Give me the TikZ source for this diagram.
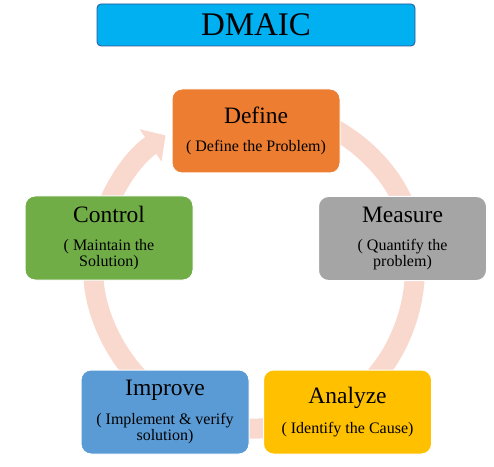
\documentclass[tikz,border=0pt]{standalone}
\usepackage{fontspec}
\setmainfont{Liberation Serif}
\newfontfamily\timesfont{Liberation Serif}
\usetikzlibrary{
  arrows.meta,
  positioning,
}
\definecolor{dmaicblue}{RGB}{0, 176, 240}
\definecolor{dmaicedge}{RGB}{47, 85, 151}
\definecolor{defineorange}{RGB}{237, 125, 49}
\definecolor{measuregray}{RGB}{165, 165, 165}
\definecolor{analyzegold}{RGB}{255, 192, 0}
\definecolor{improveblue}{RGB}{91, 155, 213}
\definecolor{controlgreen}{RGB}{112, 173, 71}
\definecolor{ringpink}{RGB}{249, 216, 206}
\newcommand{\boxtitle}{\timesfont\fontsize{23.5}{27}\selectfont}
\newcommand{\boxsub}{\timesfont\fontsize{16}{16}\selectfont}
\tikzstyle{cyclearrow} = [
  -{Triangle[length=18pt, width=38pt]},
  line width=20pt,
  ringpink,
]

\begin{document}
\begin{tikzpicture}[x=1pt, y=1pt,
                    phase/.style={draw=white, line width=1pt,
                                  rounded corners=10pt,
                                  minimum width=168pt, minimum height=84pt,
                                  align=center, font=\boxsub, text=black}]
    \useasboundingbox (0,0) rectangle (494,466);
    \coordinate (hub) at (255,198);
    % ring of arrows, clockwise
    \draw [cyclearrow] ([shift={(165:160)}]hub) arc[start angle=165, end angle=124, radius=160];
    \draw [cyclearrow] ([shift={(70:160)}]hub) arc[start angle=70, end angle=10, radius=160];
    \draw [cyclearrow] ([shift={(0:160)}]hub) arc[start angle=0, end angle=-60, radius=160];
    \draw [cyclearrow] ([shift={(-70:160)}]hub) arc[start angle=-70, end angle=-115, radius=160];
    \draw [cyclearrow] ([shift={(225:160)}]hub) arc[start angle=225, end angle=170, radius=160];
    % title
    \node [draw=dmaicedge, fill=dmaicblue, line width=0.8pt, rounded corners=4pt,
           minimum width=318pt, minimum height=42pt,
           font=\timesfont\fontsize{33}{36}\selectfont] (title) at (256,441) {DMAIC};
    % phases
    \node [phase, fill=defineorange] (define) at (256,335)
          {{\boxtitle Define}\\[12pt]( Define the Problem)};
    \node [phase, fill=measuregray] (measure) at (402.5,227.5)
          {{\boxtitle Measure}\\[12pt]( Quantify the\\problem)};
    \node [phase, fill=analyzegold] (analyze) at (347.5,54)
          {{\boxtitle Analyze}\\[12pt]( Identify the Cause)};
    \node [phase, fill=improveblue] (improve) at (165,54)
          {{\boxtitle Improve}\\[12pt]( Implement \& verify\\solution)};
    \node [phase, fill=controlgreen] (control) at (109,228)
          {{\boxtitle Control}\\[12pt]( Maintain the\\Solution)};
\end{tikzpicture}
\end{document}
